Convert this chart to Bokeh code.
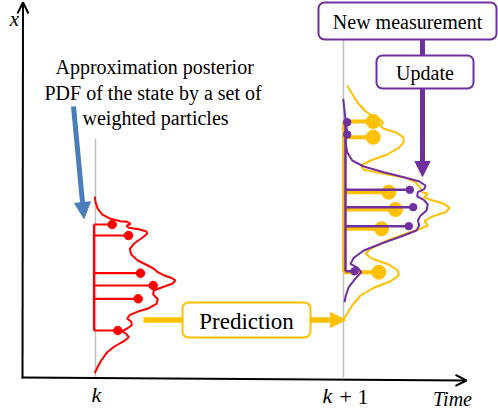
from bokeh.plotting import figure
from bokeh.models import Range1d, Arrow, NormalHead, OpenHead
from bokeh.core.properties import value
from bokeh.embed import file_html
from bokeh.resources import INLINE

RED = "#ff0000"
YEL = "#ffc000"
PUR = "#7030a0"
BLUE = "#4a7ebb"
GRAY = "#c0c0c0"
SERIF = value("Liberation Serif")

# ---------------- data (diagram coordinates) ----------------
time_ticks = [95, 343]
time_labels = ["k", "k"]
time_suffix = ["", "+ 1"]

# posterior at k (red)
red_pdf_x = [94.3, 95, 97.3, 101.7, 110, 120, 126.7, 130, 126, 128.3, 138.3, 146, 146.7, 141.7,
             134, 129.3, 130.7, 137.3, 147.3, 154, 156.7, 163.3, 171.7, 175, 171.7, 161.7, 153.3,
             152.7, 157.3, 156, 148.3, 136.7, 129, 126.7, 130.7, 131.3, 126.7, 121.7, 126, 128.3,
             123.3, 114, 106.7, 100.7, 96.7, 94.3]
red_pdf_y = [196, 201.7, 208.3, 214, 218.3, 220.7, 221.3, 223.3, 225.3, 227.3, 228.7, 231, 233.3,
             237.3, 242.7, 248.3, 254, 260, 265, 268.7, 271.3, 274.7, 277.7, 280, 283.3, 286.7, 290,
             294, 298.7, 303.3, 307.7, 311.3, 314.7, 318, 321.3, 324.7, 328, 330.7, 333.7, 336.7,
             340.7, 346, 351.7, 360, 367.3, 372.7]
red_particle_state = [224, 235, 272.7, 285, 298.3, 330]
red_particle_weight = [111.7, 128, 140, 152.7, 137.7, 117.3]

# predicted PDF at k+1 (yellow)
yel_pdf_x = [346.7, 350.7, 356.7, 365, 373.3, 381, 382.7, 379.3, 383.3, 395, 402.7, 403.3, 398.3,
             386.7, 370, 360.7, 363.3, 383.3, 405, 415, 419.3, 421.7, 427.3, 423.3, 430, 443.3,
             449.3, 445, 431.7, 424, 427.3, 420, 406.7, 386.7, 370, 365, 371.7, 388.3, 397.3, 398.3,
             390, 373.3, 360, 351.7, 346.7, 342.7]
yel_pdf_y = [85, 91.7, 101.7, 110.7, 116.7, 120, 122.7, 125, 128.3, 131.7, 136.7, 141.7, 147.3, 154,
             160, 165, 169.3, 173.3, 177.3, 181.7, 186.7, 191.7, 193.3, 196.7, 199.3, 203.3, 207.3,
             211.7, 216, 220.7, 225, 228.3, 232.7, 240, 248.3, 253.3, 258.3, 264, 270, 275, 280.7,
             287.3, 295, 305, 313.3, 319.3]
yel_particle_state = [121, 136.7, 191.7, 209, 228.3, 271.7]
yel_particle_weight = [372.7, 372.7, 388.3, 395, 381, 378.3]

# updated PDF at k+1 (purple)
pur_pdf_x = [342.7, 344, 345.3, 346.7, 345, 346.7, 351.7, 363.3, 383.3, 403.3, 418.3, 425, 424,
             417.3, 416.7, 423.3, 427.3, 426, 420, 417.3, 418.7, 416, 403.3, 381.7, 363.3, 353.3,
             350, 357.3, 360.7, 356, 348.3, 345.3, 344]
pur_pdf_y = [98.3, 110, 121.7, 131.7, 141.7, 151.7, 160, 166, 171.7, 176.7, 180.7, 185, 188.3, 191.7,
             196, 199.3, 204, 210, 215.3, 220, 225, 230, 235, 242.7, 250, 257.3, 263.3, 267.3,
             271.7, 276.7, 286.7, 295, 301.7]
pur_particle_state = [121.7, 134, 189.3, 206.7, 225.7, 270.7]
pur_particle_weight = [346.7, 346.7, 409.3, 412.7, 408.3, 354]

note_lines = ["Approximation posterior", "PDF of the state by a set of", "weighted particles"]

# ---------------- figure ----------------
p = figure(width=498, height=414, x_range=Range1d(0, 498), y_range=Range1d(414, 0),
           output_backend="svg", toolbar_location=None, min_border=0,
           background_fill_color="white", border_fill_color="white")
p.axis.visible = False
p.grid.visible = False
p.outline_line_color = None

# time guides
p.segment(x0=[time_ticks[0]], y0=[138], x1=[time_ticks[0]], y1=[377], line_color=GRAY, line_width=1.5)
p.segment(x0=[time_ticks[1]], y0=[38], x1=[time_ticks[1]], y1=[377], line_color=GRAY, line_width=1.5)

# axes
p.add_layout(Arrow(end=OpenHead(size=11, line_width=2, line_color="black"),
                   x_start=22, y_start=378, x_end=22.5, y_end=2, line_width=2, line_color="black"))
p.add_layout(Arrow(end=OpenHead(size=11, line_width=2, line_color="black"),
                   x_start=21, y_start=377, x_end=466, y_end=380, line_width=2, line_color="black"))

# red posterior
p.line(red_pdf_x, red_pdf_y, line_color=RED, line_width=2)
stem_x = 93.5
p.segment(x0=[stem_x], y0=[min(red_particle_state)], x1=[stem_x], y1=[max(red_particle_state)],
          line_color=RED, line_width=2.2)
p.segment(x0=[stem_x] * 6, y0=red_particle_state, x1=red_particle_weight, y1=red_particle_state,
          line_color=RED, line_width=2.2)
p.scatter(red_particle_weight, red_particle_state, size=8.5, color=RED)

# yellow prediction
p.line(yel_pdf_x, yel_pdf_y, line_color=YEL, line_width=2)
ys = 343.3
p.segment(x0=[ys], y0=[min(yel_particle_state)], x1=[ys], y1=[max(yel_particle_state)],
          line_color=YEL, line_width=3.5)
p.segment(x0=[ys] * 6, y0=yel_particle_state, x1=yel_particle_weight, y1=yel_particle_state,
          line_color=YEL, line_width=4)
p.scatter(yel_particle_weight, yel_particle_state, size=14, color=YEL)

# purple update
p.line(pur_pdf_x, pur_pdf_y, line_color=PUR, line_width=2)
ps = 345
p.segment(x0=[ps], y0=[min(pur_particle_state)], x1=[ps], y1=[max(pur_particle_state)],
          line_color=PUR, line_width=2.5)
p.segment(x0=[ps] * 6, y0=pur_particle_state, x1=pur_particle_weight, y1=pur_particle_state,
          line_color=PUR, line_width=2.5)
p.scatter(pur_particle_weight, pur_particle_state, size=7.5, color=PUR)

# blue pointer arrow
p.add_layout(Arrow(end=NormalHead(size=16, fill_color=BLUE, line_color=BLUE),
                   x_start=73, y_start=106, x_end=83.5, y_end=218, line_width=5, line_color=BLUE))

# prediction arrow
p.segment(x0=[143], y0=[319.5], x1=[183], y1=[319.5], line_color=YEL, line_width=5.5)
p.add_layout(Arrow(end=NormalHead(size=15, fill_color=YEL, line_color=YEL),
                   x_start=309, y_start=319.5, x_end=345, y_end=319.5, line_width=5.5, line_color=YEL))

# update arrows
p.segment(x0=[422], y0=[39], x1=[422], y1=[56], line_color=PUR, line_width=5)
p.add_layout(Arrow(end=NormalHead(size=15, fill_color=PUR, line_color=PUR),
                   x_start=422, y_start=88, x_end=422, y_end=176, line_width=5, line_color=PUR))

# boxes
p.quad(left=[318], right=[496], top=[2], bottom=[39], fill_color="white",
       line_color=PUR, line_width=2, border_radius=6)
p.quad(left=[376], right=[473], top=[55], bottom=[88], fill_color="white",
       line_color=PUR, line_width=2, border_radius=6)
p.quad(left=[182], right=[310], top=[302], bottom=[337], fill_color="white",
       line_color=YEL, line_width=2, border_radius=6)

# texts
p.text(x=[407, 424.5], y=[21, 72], text=["New measurement", "Update"], text_font=SERIF,
       text_font_size=value("20px"), text_align="center", text_baseline="middle", text_color="black")
p.text(x=[246], y=[320.5], text=["Prediction"], text_font=SERIF,
       text_font_size=value("23px"), text_align="center", text_baseline="middle", text_color="black")
p.text(x=[55, 44, 82], y=[66, 92, 117], text=note_lines, text_font=SERIF,
       text_font_size=value("20px"), text_align="left", text_baseline="alphabetic", text_color="black")
p.text(x=[time_ticks[0] + 1, time_ticks[1] - 16], y=[394, 395], text=time_labels,
       text_font=SERIF, text_font_style="italic", text_font_size=value("22px"),
       text_align="center", text_baseline="middle", text_color="black")
p.text(x=[time_ticks[1] + 10.5], y=[395.5], text=[time_suffix[1]],
       text_font=SERIF, text_font_size=value("22px"),
       text_align="center", text_baseline="middle", text_color="black")
p.text(x=[452], y=[398], text=["Time"],
       text_font=SERIF, text_font_style="italic", text_font_size=value("20px"),
       text_align="center", text_baseline="middle", text_color="black")
p.text(x=[14], y=[18], text=["x"], text_font=SERIF, text_font_style="italic",
       text_font_size=value("21px"), text_align="center", text_baseline="middle", text_color="black")

open("out.html", "w").write(file_html(p, INLINE))
